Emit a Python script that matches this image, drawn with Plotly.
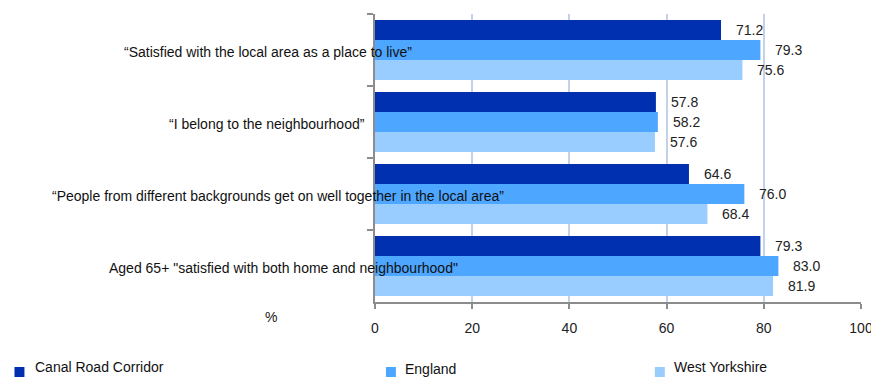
import plotly.graph_objects as go

categories = [
    "“Satisfied with the local area as a place to live”",
    "“I belong to the neighbourhood”",
    "“People from different backgrounds get on well together in the local area”",
    "Aged 65+ \"satisfied with both home and neighbourhood\"",
]
series_names = ["Canal Road Corridor", "England", "West Yorkshire"]
canal_road = [71.2, 57.8, 64.6, 79.3]
england = [79.3, 58.2, 76.0, 83.0]
west_yorkshire = [75.6, 57.6, 68.4, 81.9]
x_ticks = [0, 20, 40, 60, 80, 100]

colors = ["#0030b0", "#4da6ff", "#99ccff"]
font = "Liberation Sans, Arial, sans-serif"
series = [canal_road, england, west_yorkshire]

# page body has an 8px margin, so the figure is 8px smaller each way
PL, PT, PW, PH = 375, 14, 488, 288  # plot area in page pixels


def px_x(x):
    return (x - PL) / PW


def px_y(y):
    return (PT + PH - y) / PH


fig = go.Figure()
for name, vals, col in zip(series_names, series, colors):
    fig.add_trace(go.Bar(
        y=categories, x=vals, name=name, orientation="h",
        marker=dict(color=col, line=dict(width=0)),
        showlegend=False,
    ))

# value labels, one per bar, shifted to each bar in the group
shifts = [20, 0, -20]
for vals, dy in zip(series, shifts):
    for cat, v in zip(categories, vals):
        fig.add_annotation(x=v, y=cat, text=f"{v:.1f}", showarrow=False,
                           xanchor="left", xshift=13, yshift=dy,
                           font=dict(size=14, color="#222222"))

# category labels sit over the axis, centred to the left
label_centres = [268, 267, 278, 283]
for cat, cx in zip(categories, label_centres):
    fig.add_annotation(x=px_x(cx), xref="paper", y=cat, text=cat,
                       showarrow=False, xanchor="center", yshift=-2,
                       font=dict(size=14, color="#111111"))

fig.add_annotation(x=px_x(263), xref="paper", y=px_y(317), yref="paper",
                   text="%", showarrow=False, yanchor="middle",
                   font=dict(size=14, color="#222222"))

# legend drawn by hand to match the spread-out layout
legend_sq = [13, 386, 656]
legend_txt = [32, 403, 673]
legend_y = [367, 369, 367]
for name, col, sx, tx, ly in zip(series_names, colors, legend_sq, legend_txt, legend_y):
    fig.add_shape(type="rect", xref="paper", yref="paper",
                  x0=px_x(sx), x1=px_x(sx + 10),
                  y0=px_y(380), y1=px_y(367),
                  fillcolor=col, line=dict(width=0))
    fig.add_annotation(x=px_x(tx), xref="paper", y=px_y(ly), yref="paper",
                       text=name, showarrow=False, xanchor="left", yanchor="middle",
                       font=dict(size=14, color="#111111"))

fig.update_layout(
    width=871, height=369,
    margin=dict(l=PL - 8, r=14, t=PT - 8, b=75),
    barmode="group", bargap=0.1667, bargroupgap=0,
    plot_bgcolor="white", paper_bgcolor="white",
    font=dict(family=font, size=14, color="#222222"),
    xaxis=dict(range=[0, 100], tickvals=x_ticks, showgrid=True,
               gridcolor="#c3d2e8", gridwidth=2, zeroline=False,
               showline=True, linecolor="#8c8c8c", linewidth=2,
               ticks="outside", ticklen=5, tickcolor="#8c8c8c", tickwidth=2,
               ticklabelstandoff=7),
    yaxis=dict(autorange="reversed", showticklabels=False,
               showline=True, linecolor="#8c8c8c", linewidth=2,
               ticks="outside", tickson="boundaries", ticklen=6,
               tickcolor="#8c8c8c", tickwidth=2, showgrid=False),
)

fig.write_html("out.html")
